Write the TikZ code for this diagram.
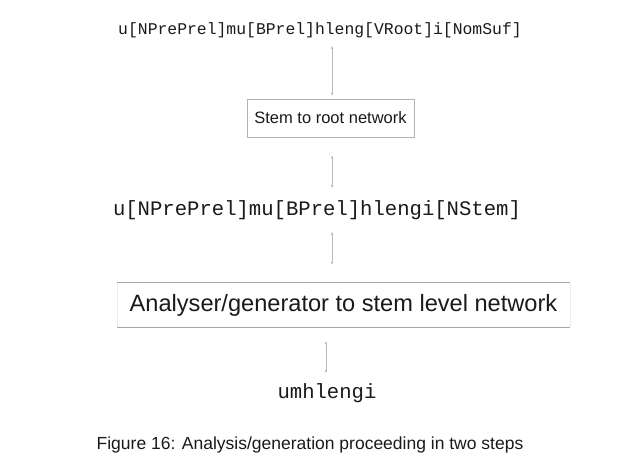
\documentclass[tikz,border=0pt]{standalone}
\usepackage{fontspec}
\setmainfont{Liberation Sans}
\setmonofont{Liberation Mono}
\usetikzlibrary{arrows.meta}
\definecolor{ink}{HTML}{1A1A1A}
\tikzset{
  mono/.style={inner sep=0pt, text=ink, font=\ttfamily\fontsize{#1}{#1}\selectfont},
  sans/.style={inner sep=0pt, text=ink, font=\fontsize{#1}{#1}\selectfont},
  dbl/.style={draw=gray!55, line width=0.6pt, {Latex[length=3pt,width=2.5pt]}-{Latex[length=3pt,width=2.5pt]}},
}
\begin{document}
\begin{tikzpicture}[x=1pt,y=-1pt]
\useasboundingbox[fill=white] (0,0) rectangle (619,474);
% texts
\node[mono=16.4] (t1) at (320,30) {u[NPrePrel]mu[BPrel]hleng[VRoot]i[NomSuf]};
\node[draw=gray!60, line width=0.5pt, minimum width=167pt, minimum height=38pt, inner sep=0pt,
      text=ink, font=\fontsize{16.5}{16.5}\selectfont] (b1) at (330.5,118) {Stem to root network};
\node[mono=20.6] (t2) at (317,210) {u[NPrePrel]mu[BPrel]hlengi[NStem]};
\node[minimum width=453pt, minimum height=44pt, inner sep=0pt,
      text=ink, font=\fontsize{23.6}{23.6}\selectfont] (b2) at (343.5,305) {Analyser/generator to stem level network};
\draw[gray!70, line width=0.8pt] (b2.north west) -- (b2.north east);
\draw[gray!70, line width=0.8pt] (b2.south west) -- (b2.south east);
\draw[gray!15, line width=0.5pt] (b2.north west) -- (b2.south west);
\draw[gray!15, line width=0.5pt] (b2.north east) -- (b2.south east);
\node[mono=20.6] (t3) at (327,393) {umhlengi};
\node[sans=17.5] (cap) at (310,445) {Figure 16: Analysis/generation proceeding in two steps};
% connectors
\coordinate (ax) at (332,0);
\coordinate (bx) at (326,0);
\draw[dbl, shorten <=8pt, shorten >=3pt] (t1.south -| ax) -- (b1.north -| ax);
\draw[dbl, shorten <=18pt, shorten >=12pt] (b1.south -| ax) -- (t2.north -| ax);
\draw[dbl, shorten <=12pt, shorten >=18pt] (t2.south -| ax) -- (b2.north -| ax);
\draw[dbl, shorten <=14pt, shorten >=10pt] (b2.south -| bx) -- (t3.north -| bx);
\end{tikzpicture}
\end{document}
